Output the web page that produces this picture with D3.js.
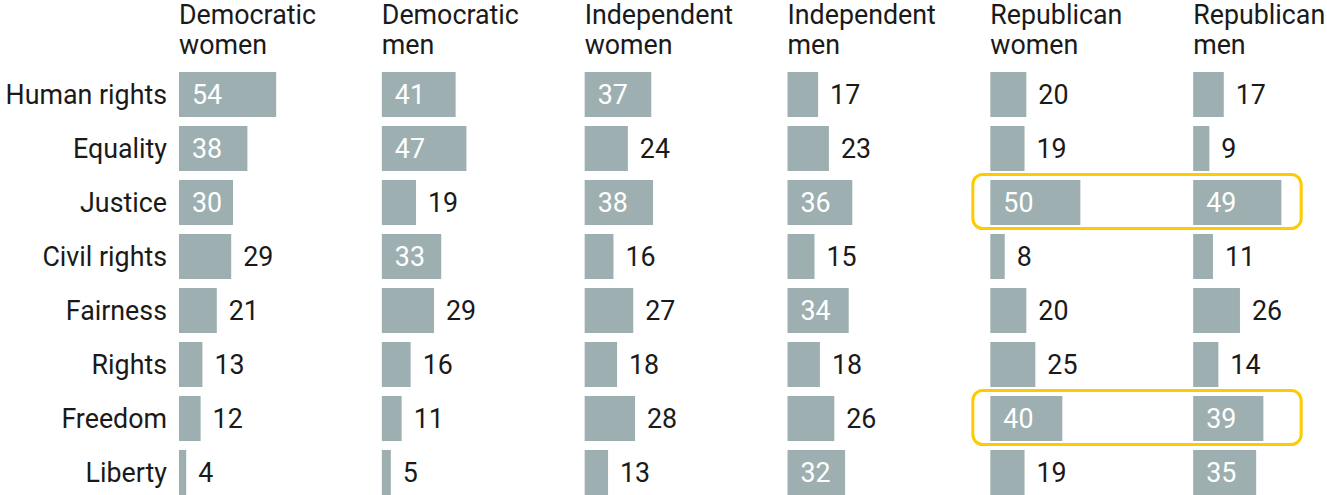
<!DOCTYPE html>
<html>
<head>
<meta charset="utf-8">
<script src="https://cdn.jsdelivr.net/npm/d3@7"></script>
<style>
  html, body { margin: 0; padding: 0; background: #fff; }
  svg { display: block; font-family: Roboto, "Noto Sans", sans-serif; }
</style>
</head>
<body>
<svg id="chart" width="1327" height="495"></svg>
<script>
// Words people associate with the issue, share (%) by party and gender
const words = ["Human rights", "Equality", "Justice", "Civil rights", "Fairness", "Rights", "Freedom", "Liberty"];
const groups = [["Democratic", "women"], ["Democratic", "men"], ["Independent", "women"], ["Independent", "men"], ["Republican", "women"], ["Republican", "men"]];
const demWomen = [54, 38, 30, 29, 21, 13, 12, 4];
const demMen = [41, 47, 19, 33, 29, 16, 11, 5];
const indWomen = [37, 24, 38, 16, 27, 18, 28, 13];
const indMen = [17, 23, 36, 15, 34, 18, 26, 32];
const repWomen = [20, 19, 50, 8, 20, 25, 40, 19];
const repMen = [17, 9, 49, 11, 26, 14, 39, 35];
const series = [demWomen, demMen, indWomen, indMen, repWomen, repMen];
// rows outlined across the Republican panels
const highlighted = ["Justice", "Freedom"];

const svg = d3.select("#chart");
const barColor = "#9dafb0";
const textColor = "#1a1a1a";
const fontSize = 26.8;

const col = d3.scaleBand().domain(d3.range(groups.length)).range([179, 1396]);
const row = d3.scaleBand().domain(words).range([72, 72 + 8 * 54 - 9]).paddingInner(9 / 54).paddingOuter(0);
const x = d3.scaleLinear().domain([0, 100]).range([0, 180]);

// column headers
groups.forEach((g, i) => {
  const t = svg.append("text")
    .attr("x", col(i))
    .attr("y", 24)
    .attr("fill", textColor)
    .attr("font-size", fontSize);
  t.append("tspan").attr("x", col(i)).attr("dy", 0).text(g[0]);
  t.append("tspan").attr("x", col(i)).attr("dy", 30).text(g[1]);
});

// row labels
svg.selectAll("text.word").data(words).join("text")
  .attr("class", "word")
  .attr("x", 167)
  .attr("y", d => row(d) + row.bandwidth() / 2)
  .attr("dy", "0.35em")
  .attr("text-anchor", "end")
  .attr("font-size", fontSize)
  .attr("fill", textColor)
  .text(d => d);

// highlight boxes across the two Republican columns
highlighted.forEach(w => {
  svg.append("rect")
    .attr("x", col(4) - 17.5)
    .attr("y", row(w) - 5.5)
    .attr("width", col(5) + 108 - (col(4) - 17.5))
    .attr("height", row.bandwidth() + 9)
    .attr("rx", 10)
    .attr("fill", "none")
    .attr("stroke", "#fecb00")
    .attr("stroke-width", 3);
});

// bars and value labels
series.forEach((vals, i) => {
  const g = svg.append("g").attr("transform", `translate(${col(i)},0)`);
  const data = words.map((w, j) => ({ w, v: vals[j] }));
  g.selectAll("rect").data(data).join("rect")
    .attr("x", 0)
    .attr("y", d => row(d.w))
    .attr("width", d => x(d.v))
    .attr("height", row.bandwidth())
    .attr("fill", barColor);
  g.selectAll("text").data(data).join("text")
    .attr("x", d => d.v >= 30 ? 13 : x(d.v) + 12)
    .attr("y", d => row(d.w) + row.bandwidth() / 2)
    .attr("dy", "0.35em")
    .attr("font-size", fontSize)
    .attr("fill", d => d.v >= 30 ? "#ffffff" : textColor)
    .text(d => d.v);
});
</script>
</body>
</html>
